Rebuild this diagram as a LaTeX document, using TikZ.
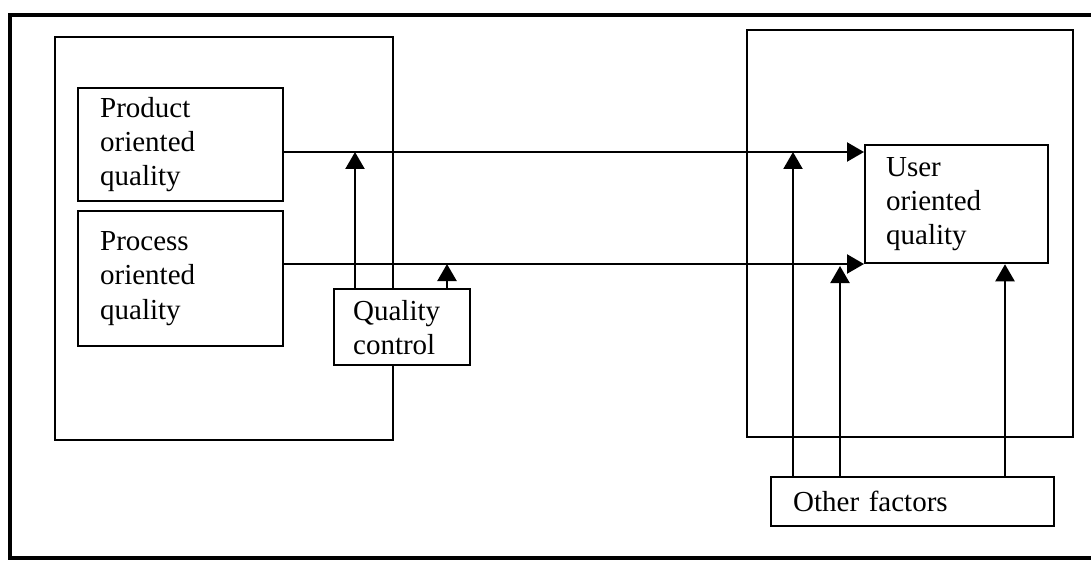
\documentclass[tikz,border=0pt]{standalone}
\usepackage{fontspec}
\setmainfont{Liberation Serif}
\usetikzlibrary{arrows.meta}

\tikzset{
  box/.style={draw, fill=white, line width=1.3pt, anchor=north west, align=left, inner ysep=0pt,
    font=\fontsize{16.5}{19.4}\selectfont},
  flow/.style={line width=1.3pt, -{Triangle[length=0.34cm,width=0.38cm]}},
}

\begin{document}
\begin{tikzpicture}[x=0.02cm,y=-0.02cm]
    \useasboundingbox (0,0) rectangle (1091,568);
    % frames
    \draw[line width=2pt] (1100,15) -- (10,15) -- (10,558) -- (1100,558);
    \draw[line width=1.3pt] (55,37) rectangle (393,440);
    \draw[line width=1.3pt] (747,30) rectangle (1073,437);
    % boxes
    \node[box, inner xsep=0.44cm, text width=3.22cm, minimum height=2.26cm] (prod) at (77,87) {Product\\oriented\\quality};
    \node[box, inner xsep=0.44cm, text width=3.22cm, minimum height=2.7cm] (proc) at (77,210) {Process\\oriented\\quality\\[12pt]};
    \node[box, inner xsep=0.38cm, text width=1.96cm, minimum height=1.52cm] (qc) at (333,288) {Quality\\control};
    \node[box, inner xsep=0.42cm, text width=2.82cm, minimum height=2.36cm] (user) at (864,144) {User\\oriented\\quality};
    \node[box, inner xsep=0.44cm, text width=4.78cm, minimum height=0.98cm] (other) at (770,476) {Other factors};
    % junctions
    \coordinate (j1) at (355,152);
    \coordinate (j2) at (447,264);
    \coordinate (j3) at (793,152);
    \coordinate (j4) at (840,266);
    \coordinate (j5) at (1005,262);
    % connectors
    \draw[flow] (prod.east |- j1) -- (user.west |- j1);
    \draw[flow] (proc.east |- j2) -- (user.west |- j2);
    \draw[flow] (qc.north -| j1) -- (j1);
    \draw[flow] (qc.north -| j2) -- (j2);
    \draw[flow] (other.north -| j3) -- (j3);
    \draw[flow] (other.north -| j4) -- (j4);
    \draw[flow] (other.north -| j5) -- (user.south -| j5);
\end{tikzpicture}
\end{document}
